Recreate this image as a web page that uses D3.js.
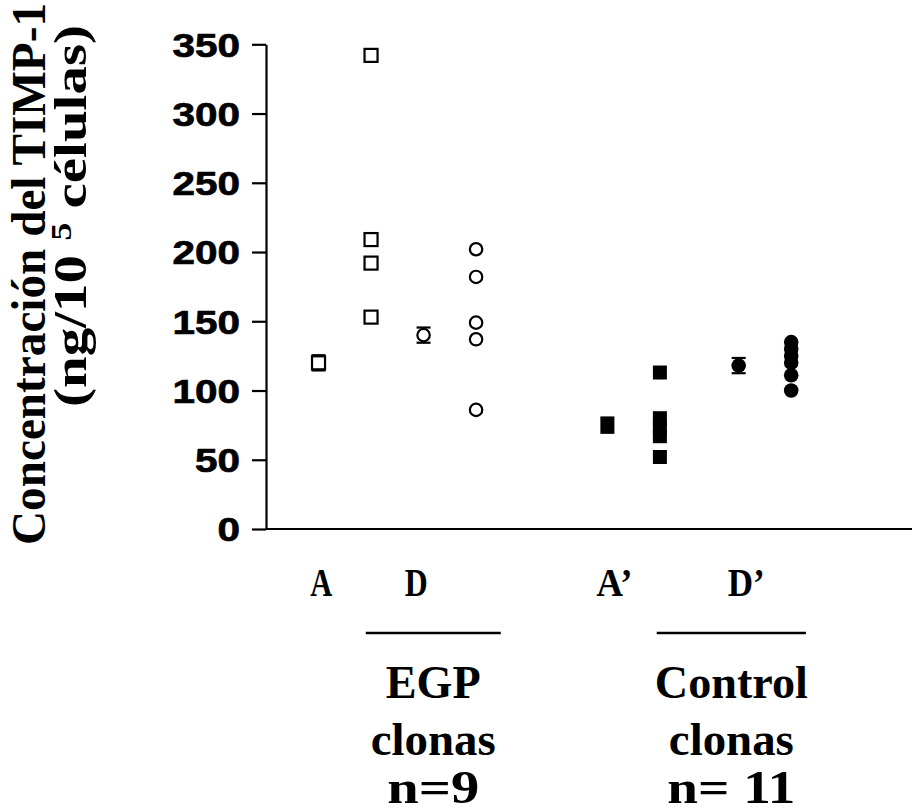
<!DOCTYPE html>
<html>
<head>
<meta charset="utf-8">
<script src="https://cdn.jsdelivr.net/npm/d3@7"></script>
<style>
  html, body { margin: 0; padding: 0; background: #fff; }
  svg { display: block; }
</style>
</head>
<body>
<svg id="chart" width="915" height="811"></svg>
<script>
// TIMP-1 concentration per clone (ng / 10^5 cells)
const yTicks = [0, 50, 100, 150, 200, 250, 300, 350];

// Column positions on the x axis (arbitrary units)
const colA = 1, colDsq = 2, colDmean = 3, colDcirc = 4;
const colA2 = 6.5, colD2sq = 7.5, colD2mean = 9, colD2circ = 10;

// EGP clones
const egpSquares = [342, 209, 192, 153];
const egpCircles = [202, 182, 149, 137, 86];
// Control clones
const ctrlSquares = [113, 80, 73, 67, 52];
const ctrlCircles = [135, 130, 125, 120, 111, 100];

// Group means with error (±)
const meansOpen = [
  { col: colA, value: 120, err: 5.5, shape: "square" },
  { col: colDmean, value: 140, err: 5.5, shape: "circle" }
];
const meansFilled = [
  { col: colA2, value: 75, err: 5.5, shape: "square" },
  { col: colD2mean, value: 118, err: 5.5, shape: "circle" }
];

const catLabels = ["A", "D", "A’", "D’"];
const catLabelCols = [1.05, 2.85, 6.5, 9.0];
const catLabelWidths = [22, 23, 36, 37];

const groupNames = [["EGP", "clonas", "n=9"], ["Control", "clonas", "n= 11"]];
const groupNameWidths = [[95, 125, 92], [153, 125, 128]];
const groupSpans = [[1.9, 4.47], [7.44, 10.28]];

const svg = d3.select("#chart");

const x = d3.scaleLinear().domain([0, 12.3]).range([266, 912]);
const y = d3.scaleLinear().domain([0, 350]).range([529, 44.3]);

const serif = "'Liberation Serif', 'Times New Roman', serif";

// y axis with outward ticks
const yAxis = svg.append("g")
  .attr("transform", `translate(${x(0)},0)`)
  .call(d3.axisLeft(y).tickValues(yTicks).tickSize(14).tickSizeOuter(0).tickPadding(12));
yAxis.selectAll("path.domain, line").attr("stroke", "#000").attr("stroke-width", 2.2);
yAxis.selectAll("text")
  .attr("fill", "#000")
  .attr("stroke", "#000")
  .attr("stroke-width", 0.7)
  .style("font-family", "'Liberation Sans', Arial, sans-serif")
  .style("font-weight", "bold")
  .style("font-size", "33px")
  .attr("dy", "0.36em")
  .attr("textLength", d => String(d).length * 22.5)
  .attr("lengthAdjust", "spacingAndGlyphs");

// x axis line (no ticks)
svg.append("line")
  .attr("x1", x(0)).attr("x2", x(12.3))
  .attr("y1", y(0)).attr("y2", y(0))
  .attr("stroke", "#000").attr("stroke-width", 2.2);

// y axis title (two lines, rotated)
svg.append("text")
  .attr("transform", `translate(45,274) rotate(-90)`)
  .attr("text-anchor", "middle")
  .style("font-family", serif)
  .style("font-weight", "bold")
  .style("font-size", "48px")
  .attr("textLength", 542)
  .attr("lengthAdjust", "spacingAndGlyphs")
  .text("Concentración del TIMP-1");

const t2 = svg.append("text")
  .attr("transform", `translate(86,216) rotate(-90)`)
  .attr("text-anchor", "middle")
  .style("font-family", serif)
  .style("font-weight", "bold")
  .style("font-size", "47px")
  .attr("textLength", 382)
  .attr("lengthAdjust", "spacingAndGlyphs");
t2.append("tspan").text("(ng/10 ");
t2.append("tspan").attr("dy", -15).style("font-size", "30px").text("5");
t2.append("tspan").attr("dy", 15).text("  células)");

// marker drawing helpers
const S = 13; // open square size
function openSquares(col, vals) {
  svg.append("g").selectAll("rect").data(vals).join("rect")
    .attr("x", x(col) - S / 2).attr("y", d => y(d) - S / 2)
    .attr("width", S).attr("height", S)
    .attr("fill", "#fff").attr("stroke", "#000").attr("stroke-width", 2.2);
}
function openCircles(col, vals) {
  svg.append("g").selectAll("circle").data(vals).join("circle")
    .attr("cx", x(col)).attr("cy", d => y(d)).attr("r", 6.2)
    .attr("fill", "#fff").attr("stroke", "#000").attr("stroke-width", 2.2);
}
function filledSquares(col, vals) {
  svg.append("g").selectAll("rect").data(vals).join("rect")
    .attr("x", x(col) - 7).attr("y", d => y(d) - 7)
    .attr("width", 14).attr("height", 14)
    .attr("fill", "#000");
}
function filledCircles(col, vals) {
  svg.append("g").selectAll("circle").data(vals).join("circle")
    .attr("cx", x(col)).attr("cy", d => y(d)).attr("r", 7.3)
    .attr("fill", "#000");
}
function errorBars(list) {
  const g = svg.append("g");
  list.forEach(m => {
    const cx = x(m.col);
    [m.value - m.err, m.value + m.err].forEach(v => {
      g.append("line")
        .attr("x1", cx - 7).attr("x2", cx + 7)
        .attr("y1", y(v)).attr("y2", y(v))
        .attr("stroke", "#000").attr("stroke-width", 2.2);
    });
    g.append("line")
      .attr("x1", cx).attr("x2", cx)
      .attr("y1", y(m.value - m.err)).attr("y2", y(m.value + m.err))
      .attr("stroke", "#000").attr("stroke-width", 2);
  });
}

errorBars(meansOpen);
errorBars(meansFilled);

openSquares(colA, meansOpen.filter(m => m.shape === "square").map(m => m.value));
openCircles(colDmean, meansOpen.filter(m => m.shape === "circle").map(m => m.value));
openSquares(colDsq, egpSquares);
openCircles(colDcirc, egpCircles);

filledSquares(colA2, meansFilled.filter(m => m.shape === "square").map(m => m.value));
filledCircles(colD2mean, meansFilled.filter(m => m.shape === "circle").map(m => m.value));
filledSquares(colD2sq, ctrlSquares);
filledCircles(colD2circ, ctrlCircles);

// category labels below the axis
svg.append("g").selectAll("text").data(catLabels).join("text")
  .attr("x", (d, i) => x(catLabelCols[i]) - 11)
  .attr("y", 596)
  .attr("text-anchor", "start")
  .style("font-family", serif)
  .style("font-weight", "bold")
  .style("font-size", "39px")
  .attr("textLength", (d, i) => catLabelWidths[i])
  .attr("lengthAdjust", "spacingAndGlyphs")
  .text(d => d);

// group underlines and names
const baselines = [698, 755, 803];
groupSpans.forEach((span, i) => {
  svg.append("line")
    .attr("x1", x(span[0])).attr("x2", x(span[1]))
    .attr("y1", 633).attr("y2", 633)
    .attr("stroke", "#000").attr("stroke-width", 2.5);
  const cx = (x(span[0]) + x(span[1])) / 2;
  groupNames[i].forEach((line, j) => {
    svg.append("text")
      .attr("x", cx).attr("y", baselines[j])
      .attr("text-anchor", "middle")
      .style("font-family", serif)
      .style("font-weight", "bold")
      .style("font-size", "47px")
      .attr("textLength", groupNameWidths[i][j])
      .attr("lengthAdjust", "spacingAndGlyphs")
      .text(line);
  });
});
</script>
</body>
</html>
